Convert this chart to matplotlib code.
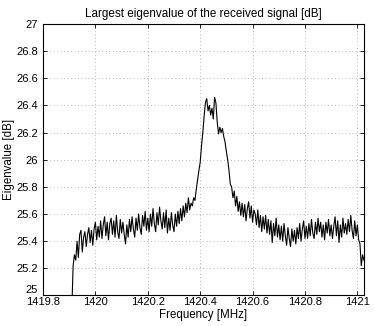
import numpy as np
import matplotlib.pyplot as plt
from matplotlib.ticker import FuncFormatter

################################################################################
# Data
################################################################################

f_start = 1419.91
f_stop = 1421.025

eigen_db = [
    24.90, 25.22, 25.30, 25.26, 25.40, 25.28, 25.45, 25.48, 25.32, 25.43,
    25.47, 25.36, 25.45, 25.50, 25.39, 25.48, 25.37, 25.49, 25.54, 25.41,
    25.51, 25.43, 25.55, 25.42, 25.52, 25.58, 25.44, 25.54, 25.41, 25.53,
    25.57, 25.45, 25.55, 25.43, 25.59, 25.47, 25.42, 25.56, 25.46, 25.54,
    25.45, 25.38, 25.52, 25.43, 25.56, 25.47, 25.58, 25.49, 25.43, 25.57,
    25.48, 25.60, 25.50, 25.45, 25.59, 25.51, 25.62, 25.48, 25.57, 25.47,
    25.60, 25.51, 25.64, 25.53, 25.47, 25.61, 25.52, 25.65, 25.55, 25.49,
    25.61, 25.50, 25.63, 25.46, 25.57, 25.48, 25.61, 25.52, 25.47, 25.60,
    25.51, 25.62, 25.53, 25.64, 25.55, 25.66, 25.58, 25.68, 25.61, 25.72,
    25.63, 25.68, 25.66, 25.72, 25.70, 25.78, 25.85, 25.92, 25.98, 26.10,
    26.20, 26.32, 26.42, 26.45, 26.36, 26.40, 26.33, 26.38, 26.30, 26.46,
    26.42, 26.28, 26.19, 26.24, 26.20, 26.23, 26.17, 26.13, 26.06, 26.00,
    25.92, 25.82, 25.80, 25.72, 25.77, 25.66, 25.73, 25.62, 25.69, 25.59,
    25.68, 25.58, 25.67, 25.55, 25.64, 25.69, 25.57, 25.66, 25.54, 25.63,
    25.60, 25.52, 25.63, 25.50, 25.59, 25.47, 25.58, 25.49, 25.59, 25.46,
    25.56, 25.45, 25.55, 25.39, 25.53, 25.44, 25.57, 25.43, 25.52, 25.41,
    25.51, 25.40, 25.53, 25.44, 25.37, 25.50, 25.42, 25.36, 25.49, 25.40,
    25.48, 25.38, 25.50, 25.42, 25.53, 25.40, 25.49, 25.55, 25.42, 25.51,
    25.42, 25.53, 25.44, 25.56, 25.46, 25.42, 25.54, 25.45, 25.57, 25.47,
    25.54, 25.43, 25.52, 25.41, 25.54, 25.46, 25.56, 25.44, 25.52, 25.42,
    25.51, 25.58, 25.44, 25.55, 25.39, 25.52, 25.43, 25.57, 25.46, 25.53,
    25.45, 25.56, 25.47, 25.59, 25.48, 25.42, 25.55, 25.44, 25.52, 25.41,
    25.38, 25.22, 25.30, 25.26,
]

# Sample grid of the spectrum
freq_mhz = np.linspace(f_start, f_stop, len(eigen_db))

x_ticks = [1419.8, 1420.0, 1420.2, 1420.4, 1420.6, 1420.8, 1421.0]
y_ticks = np.arange(25.0, 27.01, 0.2)

################################################################################
# Plotting
################################################################################

plt.rcParams["font.family"] = ["Liberation Sans", "DejaVu Sans"]
plt.rcParams["font.size"] = 8

fig = plt.figure(figsize = (3.74, 3.26), dpi = 100)
ax = fig.add_axes([0.115, 0.0936, 0.858, 0.8328])

ax.plot(freq_mhz, eigen_db, color = "black", linewidth = 0.8)

ax.set_xlim(1419.8, f_stop)
ax.set_ylim(25, 27)
ax.set_xticks(x_ticks)
ax.set_yticks(y_ticks)
ax.xaxis.set_major_formatter(FuncFormatter(lambda v, p: "%g" % round(v, 1)))
ax.yaxis.set_major_formatter(FuncFormatter(lambda v, p: "%g" % round(v, 1)))

ax.grid(True, linestyle = (0, (1, 4)), linewidth = 0.5, color = "#777777")
ax.tick_params(direction = "in", top = True, right = True, length = 3, width = 0.6)
ax.tick_params(axis = "x", pad = 1)
ax.tick_params(axis = "y", pad = 3.5)
for s in ax.spines.values():
    s.set_linewidth(0.8)

# bottom y label sits above the axis, like MATLAB does
fig.canvas.draw()
ax.get_yticklabels()[0].set_verticalalignment("bottom")

ax.set_title("Largest eigenvalue of the received signal [dB]", fontsize = 8.4, pad = 5)
ax.set_xlabel("Frequency [MHz]", fontsize = 8.3, labelpad = 1.5)
ax.set_ylabel("Eigenvalue [dB]", fontsize = 8.3)
ax.yaxis.set_label_coords(-0.088, 0.5)

fig.savefig("out.png", dpi = 100)
